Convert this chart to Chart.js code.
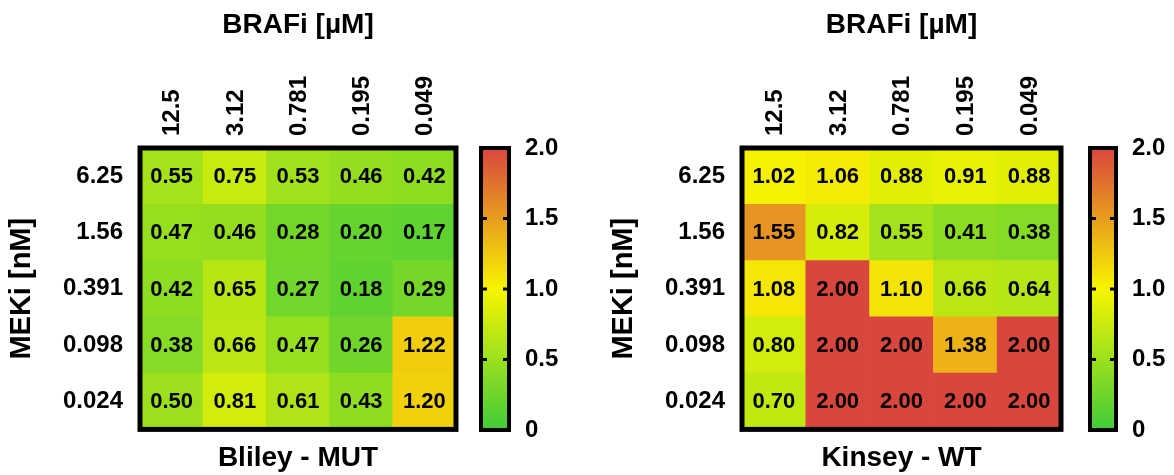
<!DOCTYPE html>
<html>
<head>
<meta charset="utf-8">
<script src="https://cdn.jsdelivr.net/npm/chart.js@4.4.1/dist/chart.umd.min.js"></script>
<style>
  html, body { margin: 0; padding: 0; background: #fff; }
  #wrap { position: relative; width: 1174px; height: 475px; overflow: hidden; }
  canvas { position: absolute; top: 0; }
</style>
</head>
<body>
<div id="wrap">
  <canvas id="heatMut" width="470" height="475" style="left:0px"></canvas>
  <canvas id="barMut" width="110" height="475" style="left:470px"></canvas>
  <canvas id="heatWt" width="470" height="475" style="left:602px"></canvas>
  <canvas id="barWt" width="95" height="475" style="left:1079px"></canvas>
</div>
<script>
// ---- dados ----
const rowLabels = ['6.25', '1.56', '0.391', '0.098', '0.024'];   // MEKi [nM], de cima para baixo
const colLabels = ['12.5', '3.12', '0.781', '0.195', '0.049'];   // BRAFi [µM]

const blileyMut = [
  [0.55, 0.75, 0.53, 0.46, 0.42],
  [0.47, 0.46, 0.28, 0.20, 0.17],
  [0.42, 0.65, 0.27, 0.18, 0.29],
  [0.38, 0.66, 0.47, 0.26, 1.22],
  [0.50, 0.81, 0.61, 0.43, 1.20]
];

const kinseyWt = [
  [1.02, 1.06, 0.88, 0.91, 0.88],
  [1.55, 0.82, 0.55, 0.41, 0.38],
  [1.08, 2.00, 1.10, 0.66, 0.64],
  [0.80, 2.00, 2.00, 1.38, 2.00],
  [0.70, 2.00, 2.00, 2.00, 2.00]
];

const scaleMin = 0;
const scaleMax = 2;
const scaleTicks = [0, 0.5, 1.0, 1.5, 2.0];

// verde -> amarelo -> vermelho
const cmapStops = [[0, [64, 204, 58]], [1, [247, 244, 0]], [2, [217, 70, 62]]];

function heatColor(v) {
  const x = Math.max(scaleMin, Math.min(scaleMax, v));
  for (let i = 0; i < cmapStops.length - 1; i++) {
    const [v0, c0] = cmapStops[i];
    const [v1, c1] = cmapStops[i + 1];
    if (x <= v1) {
      const t = (x - v0) / (v1 - v0);
      const c = c0.map((a, k) => Math.round(a + (c1[k] - a) * t));
      return `rgb(${c[0]},${c[1]},${c[2]})`;
    }
  }
  const c = cmapStops[cmapStops.length - 1][1];
  return `rgb(${c[0]},${c[1]},${c[2]})`;
}

Chart.defaults.font.family = "'Liberation Sans', Arial, Helvetica, sans-serif";
Chart.defaults.color = '#000';

const bold = (size) => ({ size, weight: 'bold' });

// ---- plugins ----
const heatFrame = {
  id: 'heatFrame',
  afterDatasetsDraw(chart) {
    const { ctx, chartArea: a } = chart;
    ctx.save();
    // valores nas células
    ctx.fillStyle = '#000';
    ctx.font = "bold 22px 'Liberation Sans', Arial, sans-serif";
    ctx.textAlign = 'center';
    ctx.textBaseline = 'middle';
    chart.data.datasets.forEach((ds, i) => {
      chart.getDatasetMeta(i).data.forEach((bar, j) => {
        ctx.fillText(ds.values[j].toFixed(2), bar.x, (bar.y + bar.base) / 2 + 1);
      });
    });
    // moldura
    ctx.strokeStyle = '#000';
    ctx.lineWidth = 5;
    ctx.strokeRect(a.left, a.top, a.right - a.left, a.bottom - a.top);
    ctx.restore();
  }
};

const barFrame = {
  id: 'barFrame',
  afterDatasetsDraw(chart) {
    const { ctx } = chart;
    const bar = chart.getDatasetMeta(0).data[0];
    const left = bar.x - bar.width / 2;
    const right = bar.x + bar.width / 2;
    const y = chart.scales.y;
    ctx.save();
    ctx.strokeStyle = '#000';
    ctx.lineWidth = 4;
    ctx.strokeRect(left, bar.y, bar.width, bar.base - bar.y);
    ctx.lineWidth = 3;
    scaleTicks.filter(v => v > scaleMin && v < scaleMax).forEach(v => {
      const py = y.getPixelForValue(v);
      ctx.beginPath();
      ctx.moveTo(left - 2, py);
      ctx.lineTo(left + 6, py);
      ctx.moveTo(right - 6, py);
      ctx.lineTo(right + 2, py);
      ctx.stroke();
    });
    ctx.restore();
  }
};

// ---- gráficos ----
function makeHeatmap(id, matrix, title, padRight) {
  const datasets = matrix.slice().reverse().map(row => ({
    data: row.map(() => 1),
    values: row,
    backgroundColor: row.map(heatColor),
    borderWidth: 0,
    barPercentage: 1,
    categoryPercentage: 1
  }));

  return new Chart(document.getElementById(id), {
    type: 'bar',
    data: { labels: colLabels, datasets },
    options: {
      responsive: false,
      animation: false,
      events: [],
      devicePixelRatio: 1,
      layout: { padding: { left: 0, right: padRight, top: 0, bottom: 0 } },
      plugins: {
        legend: { display: false },
        tooltip: { enabled: false },
        title: {
          display: true, text: title, position: 'bottom', fullSize: false,
          color: '#000', font: bold(28), padding: { top: 12, bottom: 0 }
        }
      },
      scales: {
        x: {
          stacked: true,
          position: 'top',
          grid: { display: false, drawTicks: false },
          border: { display: false },
          ticks: {
            autoSkip: false, minRotation: 90, maxRotation: 90,
            padding: 12, labelOffset: 30, font: bold(24), color: '#000'
          },
          title: { display: true, text: 'BRAFi [µM]', color: '#000', font: bold(28), padding: { top: 8, bottom: 0 } },
          afterFit: s => { s.height = 148; }
        },
        y: {
          stacked: true,
          min: 0,
          max: rowLabels.length,
          grid: { display: false, drawTicks: false },
          border: { display: false },
          afterBuildTicks: s => { s.ticks = rowLabels.map((_, i) => ({ value: i + 0.5 })); },
          ticks: {
            autoSkip: false, padding: 17, font: bold(24), color: '#000',
            callback: v => rowLabels[rowLabels.length - 1 - Math.floor(v)]
          },
          title: { display: true, text: 'MEKi [nM]', color: '#000', font: bold(29), padding: { top: 5, bottom: 0 } },
          afterFit: s => { s.width = 140; }
        }
      }
    },
    plugins: [heatFrame]
  });
}

function makeColorbar(id, scaleWidth) {
  return new Chart(document.getElementById(id), {
    type: 'bar',
    data: {
      labels: [''],
      datasets: [{
        data: [[scaleMin, scaleMax]],
        backgroundColor: (c) => {
          const a = c.chart.chartArea;
          if (!a) return null;
          const y = c.chart.scales.y;
          const g = c.chart.ctx.createLinearGradient(0, y.getPixelForValue(scaleMin), 0, y.getPixelForValue(scaleMax));
          cmapStops.forEach(([v]) => g.addColorStop((v - scaleMin) / (scaleMax - scaleMin), heatColor(v)));
          return g;
        },
        borderWidth: 0,
        barPercentage: 1,
        categoryPercentage: 1
      }]
    },
    options: {
      responsive: false,
      animation: false,
      events: [],
      devicePixelRatio: 1,
      layout: { padding: { left: 11, right: 0, top: 148, bottom: 45 } },
      plugins: { legend: { display: false }, tooltip: { enabled: false } },
      scales: {
        x: { display: false },
        y: {
          position: 'right',
          min: scaleMin,
          max: scaleMax,
          grid: { display: false, drawTicks: false },
          border: { display: false },
          afterBuildTicks: s => { s.ticks = scaleTicks.map(v => ({ value: v })); },
          ticks: {
            padding: 16, font: bold(24), color: '#000',
            callback: v => (v === 0 ? '0' : v.toFixed(1))
          },
          afterFit: s => { s.width = scaleWidth; }
        }
      }
    },
    plugins: [barFrame]
  });
}

makeHeatmap('heatMut', blileyMut, 'Bliley - MUT', 14);
makeColorbar('barMut', 71);
makeHeatmap('heatWt', kinseyWt, 'Kinsey - WT', 11);
makeColorbar('barWt', 58);
</script>
</body>
</html>
